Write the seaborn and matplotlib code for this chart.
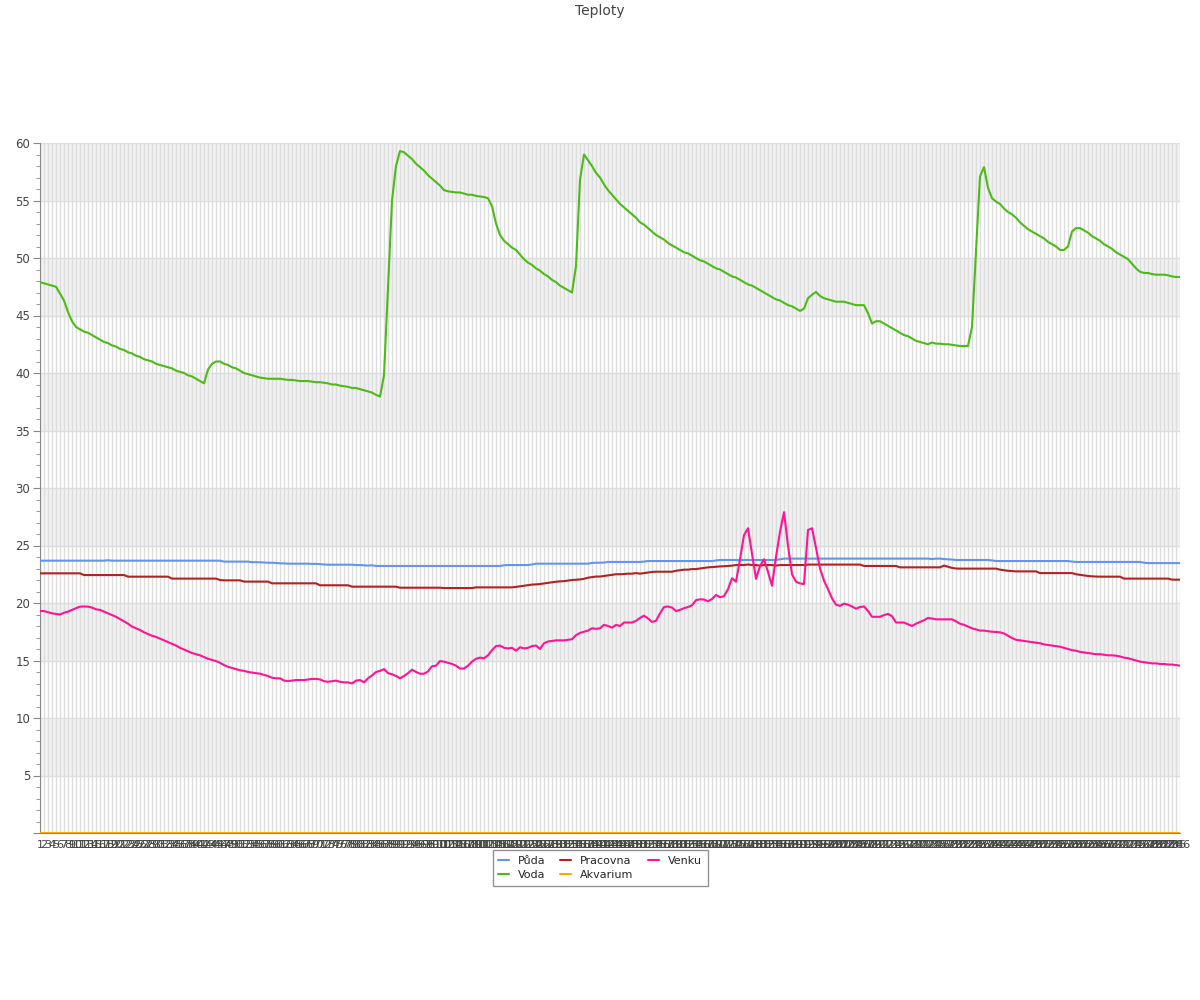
import matplotlib
matplotlib.use('Agg')
import matplotlib.pyplot as plt
import matplotlib.ticker as ticker
from matplotlib.lines import Line2D
import pandas as pd
import seaborn as sns

x_labels = [str(i) for i in range(1, 287)]

puda = [
    23.68, 23.68, 23.68, 23.68, 23.68, 23.68, 23.68, 23.68, 23.68, 23.68,
    23.68, 23.68, 23.68, 23.68, 23.68, 23.68, 23.68, 23.72, 23.68, 23.68,
    23.68, 23.68, 23.68, 23.68, 23.68, 23.68, 23.68, 23.68, 23.68, 23.68,
    23.68, 23.68, 23.68, 23.68, 23.68, 23.68, 23.68, 23.68, 23.68, 23.68,
    23.68, 23.68, 23.68, 23.68, 23.68, 23.68, 23.6, 23.6, 23.6, 23.6,
    23.6, 23.6, 23.6, 23.55, 23.55, 23.54, 23.52, 23.5, 23.5, 23.48,
    23.45, 23.45, 23.42, 23.42, 23.42, 23.42, 23.42, 23.42, 23.4, 23.4,
    23.38, 23.35, 23.33, 23.33, 23.33, 23.33, 23.33, 23.33, 23.33, 23.3,
    23.3, 23.28, 23.25, 23.28, 23.22, 23.22, 23.22, 23.22, 23.22, 23.22,
    23.22, 23.22, 23.22, 23.22, 23.22, 23.22, 23.22, 23.22, 23.22, 23.22,
    23.22, 23.22, 23.22, 23.22, 23.22, 23.22, 23.22, 23.22, 23.22, 23.22,
    23.22, 23.22, 23.22, 23.22, 23.22, 23.22, 23.28, 23.3, 23.3, 23.3,
    23.3, 23.3, 23.3, 23.35, 23.42, 23.42, 23.42, 23.42, 23.42, 23.42,
    23.42, 23.42, 23.42, 23.42, 23.42, 23.42, 23.42, 23.42, 23.48, 23.5,
    23.5, 23.52, 23.57, 23.57, 23.57, 23.57, 23.57, 23.57, 23.57, 23.57,
    23.57, 23.6, 23.65, 23.65, 23.65, 23.65, 23.65, 23.65, 23.65, 23.65,
    23.65, 23.65, 23.65, 23.65, 23.65, 23.65, 23.65, 23.65, 23.65, 23.7,
    23.74, 23.74, 23.74, 23.74, 23.74, 23.74, 23.74, 23.74, 23.74, 23.74,
    23.74, 23.74, 23.74, 23.74, 23.74, 23.8, 23.86, 23.86, 23.86, 23.86,
    23.86, 23.86, 23.86, 23.86, 23.86, 23.86, 23.86, 23.86, 23.86, 23.86,
    23.86, 23.86, 23.86, 23.86, 23.86, 23.86, 23.86, 23.86, 23.86, 23.86,
    23.86, 23.86, 23.86, 23.86, 23.86, 23.86, 23.86, 23.86, 23.86, 23.86,
    23.86, 23.86, 23.86, 23.82, 23.86, 23.86, 23.82, 23.8, 23.78, 23.74,
    23.74, 23.74, 23.74, 23.74, 23.74, 23.74, 23.74, 23.74, 23.7, 23.65,
    23.65, 23.65, 23.65, 23.65, 23.65, 23.65, 23.65, 23.65, 23.65, 23.65,
    23.65, 23.65, 23.65, 23.65, 23.65, 23.65, 23.65, 23.65, 23.6, 23.57,
    23.57, 23.57, 23.57, 23.57, 23.57, 23.57, 23.57, 23.57, 23.57, 23.57,
    23.57, 23.57, 23.57, 23.57, 23.57, 23.57, 23.5, 23.47, 23.47, 23.47,
    23.47, 23.47, 23.47, 23.47, 23.47, 23.47,
]

voda = [
    47.9, 47.8, 47.7, 47.6, 47.5, 46.9, 46.3, 45.3, 44.5, 44.0,
    43.8, 43.6, 43.5, 43.3, 43.1, 42.9, 42.7, 42.6, 42.4, 42.3,
    42.1, 42.0, 41.8, 41.7, 41.5, 41.4, 41.2, 41.1, 41.0, 40.8,
    40.7, 40.6, 40.5, 40.4, 40.2, 40.1, 40.0, 39.8, 39.7, 39.5,
    39.3, 39.1, 40.3, 40.8, 41.0, 41.0, 40.8, 40.7, 40.5, 40.4,
    40.2, 40.0, 39.9, 39.8, 39.7, 39.6, 39.55, 39.5, 39.5, 39.5,
    39.5, 39.45, 39.4, 39.4, 39.35, 39.3, 39.3, 39.3, 39.25, 39.2,
    39.2, 39.15, 39.1, 39.0, 39.0, 38.9, 38.85, 38.8, 38.7, 38.7,
    38.6, 38.5, 38.4, 38.3, 38.1, 37.95, 39.8, 47.5, 55.0, 58.0,
    59.3, 59.2, 58.9, 58.6, 58.2, 57.9, 57.6, 57.2, 56.9, 56.6,
    56.3, 55.9, 55.8, 55.75, 55.7, 55.7, 55.6, 55.5, 55.5, 55.4,
    55.35, 55.3, 55.2, 54.5, 53.0, 52.0, 51.5, 51.2, 50.9, 50.7,
    50.3, 49.9, 49.6, 49.4, 49.1, 48.9, 48.6, 48.4, 48.1, 47.9,
    47.6, 47.4, 47.2, 47.0, 49.3, 56.8, 59.0, 58.5, 58.0, 57.4,
    57.0, 56.4, 55.9, 55.5, 55.1, 54.7, 54.4, 54.1, 53.8, 53.5,
    53.1, 52.9, 52.6, 52.3, 52.0, 51.8, 51.6, 51.3, 51.1, 50.9,
    50.7, 50.5, 50.4, 50.2, 50.0, 49.8, 49.7, 49.5, 49.3, 49.1,
    49.0, 48.8, 48.6, 48.4, 48.3, 48.1, 47.9, 47.7, 47.6, 47.4,
    47.2, 47.0, 46.8, 46.6, 46.4, 46.3, 46.1, 45.9, 45.8, 45.6,
    45.4, 45.6, 46.5, 46.8, 47.05, 46.7, 46.5, 46.4, 46.3, 46.2,
    46.2, 46.2, 46.1, 46.0, 45.9, 45.9, 45.9, 45.2, 44.3, 44.5,
    44.5, 44.3, 44.1, 43.9, 43.7, 43.5, 43.3, 43.2, 43.0, 42.8,
    42.7, 42.6, 42.5, 42.65, 42.55, 42.55, 42.5, 42.5, 42.45, 42.4,
    42.35, 42.35, 42.35, 44.0, 50.5, 57.1, 57.9, 56.1, 55.2, 54.9,
    54.7, 54.3, 54.0, 53.8, 53.5, 53.1, 52.8, 52.5, 52.3, 52.1,
    51.9, 51.7, 51.4, 51.2, 51.0, 50.7, 50.7, 51.0, 52.3, 52.6,
    52.6, 52.4, 52.2, 51.9, 51.7, 51.5, 51.2, 51.0, 50.8, 50.5,
    50.3, 50.1, 49.9, 49.5, 49.1, 48.8, 48.7, 48.7, 48.6, 48.55,
    48.55, 48.55, 48.5, 48.4, 48.35, 48.35,
]

pracovna = [
    22.58, 22.58, 22.58, 22.58, 22.58, 22.58, 22.58, 22.58, 22.58, 22.58,
    22.58, 22.43, 22.43, 22.43, 22.43, 22.43, 22.43, 22.43, 22.43, 22.43,
    22.43, 22.43, 22.29, 22.29, 22.29, 22.29, 22.29, 22.29, 22.29, 22.29,
    22.29, 22.29, 22.29, 22.12, 22.12, 22.12, 22.12, 22.12, 22.12, 22.12,
    22.12, 22.12, 22.12, 22.12, 22.12, 22.0, 21.97, 21.97, 21.97, 21.97,
    21.97, 21.86, 21.86, 21.86, 21.86, 21.86, 21.86, 21.86, 21.71, 21.71,
    21.71, 21.71, 21.71, 21.71, 21.71, 21.71, 21.71, 21.71, 21.71, 21.71,
    21.54, 21.54, 21.54, 21.54, 21.54, 21.54, 21.54, 21.54, 21.42, 21.42,
    21.42, 21.42, 21.42, 21.42, 21.42, 21.42, 21.42, 21.42, 21.42, 21.42,
    21.33, 21.33, 21.33, 21.33, 21.33, 21.33, 21.33, 21.33, 21.33, 21.33,
    21.33, 21.3, 21.3, 21.3, 21.3, 21.3, 21.3, 21.3, 21.3, 21.36,
    21.36, 21.36, 21.36, 21.36, 21.36, 21.36, 21.36, 21.36, 21.36, 21.4,
    21.45, 21.5, 21.55, 21.6, 21.62, 21.65, 21.7, 21.75, 21.8, 21.85,
    21.88, 21.9, 21.95, 22.0, 22.02, 22.05, 22.1, 22.2, 22.25, 22.3,
    22.3, 22.35, 22.4, 22.45, 22.5, 22.5, 22.52, 22.55, 22.55, 22.6,
    22.55, 22.6, 22.65, 22.7, 22.72, 22.72, 22.72, 22.72, 22.72, 22.8,
    22.85, 22.9, 22.9, 22.95, 22.95, 23.0, 23.05, 23.1, 23.12, 23.15,
    23.18, 23.2, 23.22, 23.25, 23.3, 23.3, 23.3, 23.35, 23.3, 23.3,
    23.25, 23.3, 23.3, 23.3, 23.25, 23.3, 23.3, 23.3, 23.3, 23.3,
    23.3, 23.3, 23.34, 23.34, 23.34, 23.34, 23.34, 23.34, 23.34, 23.34,
    23.34, 23.34, 23.34, 23.34, 23.34, 23.34, 23.22, 23.22, 23.22, 23.22,
    23.22, 23.22, 23.22, 23.22, 23.22, 23.1, 23.1, 23.1, 23.1, 23.1,
    23.1, 23.1, 23.1, 23.1, 23.1, 23.1, 23.25, 23.15, 23.05, 23.0,
    22.99, 22.99, 22.99, 22.99, 22.99, 22.99, 22.99, 22.99, 22.99, 22.99,
    22.9, 22.85, 22.8, 22.78, 22.75, 22.75, 22.75, 22.75, 22.75, 22.75,
    22.6, 22.6, 22.6, 22.6, 22.6, 22.6, 22.6, 22.6, 22.6, 22.5,
    22.45, 22.4, 22.35, 22.32, 22.3, 22.29, 22.29, 22.29, 22.29, 22.29,
    22.29, 22.12, 22.12, 22.12, 22.12, 22.12, 22.12, 22.12, 22.12, 22.12,
    22.12, 22.12, 22.12, 22.03, 22.03, 22.03,
]

# aquarium sensor reads 0 the whole time
akvarium = [
    0, 0, 0, 0, 0, 0, 0, 0, 0, 0, 0, 0, 0, 0, 0, 0, 0, 0, 0, 0, 0, 0, 0, 0, 0, 0,
    0, 0, 0, 0, 0, 0, 0, 0, 0, 0, 0, 0, 0, 0, 0, 0, 0, 0, 0, 0, 0, 0, 0, 0, 0, 0,
    0, 0, 0, 0, 0, 0, 0, 0, 0, 0, 0, 0, 0, 0, 0, 0, 0, 0, 0, 0, 0, 0, 0, 0, 0, 0,
    0, 0, 0, 0, 0, 0, 0, 0, 0, 0, 0, 0, 0, 0, 0, 0, 0, 0, 0, 0, 0, 0, 0, 0, 0, 0,
    0, 0, 0, 0, 0, 0, 0, 0, 0, 0, 0, 0, 0, 0, 0, 0, 0, 0, 0, 0, 0, 0, 0, 0, 0, 0,
    0, 0, 0, 0, 0, 0, 0, 0, 0, 0, 0, 0, 0, 0, 0, 0, 0, 0, 0, 0, 0, 0, 0, 0, 0, 0,
    0, 0, 0, 0, 0, 0, 0, 0, 0, 0, 0, 0, 0, 0, 0, 0, 0, 0, 0, 0, 0, 0, 0, 0, 0, 0,
    0, 0, 0, 0, 0, 0, 0, 0, 0, 0, 0, 0, 0, 0, 0, 0, 0, 0, 0, 0, 0, 0, 0, 0, 0, 0,
    0, 0, 0, 0, 0, 0, 0, 0, 0, 0, 0, 0, 0, 0, 0, 0, 0, 0, 0, 0, 0, 0, 0, 0, 0, 0,
    0, 0, 0, 0, 0, 0, 0, 0, 0, 0, 0, 0, 0, 0, 0, 0, 0, 0, 0, 0, 0, 0, 0, 0, 0, 0,
    0, 0, 0, 0, 0, 0, 0, 0, 0, 0, 0, 0, 0, 0, 0, 0, 0, 0, 0, 0, 0, 0, 0, 0, 0, 0,
]

venku = [
    19.3, 19.3, 19.2, 19.1, 19.05, 19.0, 19.15, 19.25, 19.4, 19.55,
    19.68, 19.7, 19.68, 19.6, 19.45, 19.4, 19.25, 19.1, 18.95, 18.8,
    18.6, 18.4, 18.2, 17.95, 17.8, 17.65, 17.45, 17.3, 17.15, 17.05,
    16.9, 16.75, 16.6, 16.45, 16.3, 16.1, 15.95, 15.8, 15.65, 15.55,
    15.45, 15.3, 15.15, 15.05, 14.95, 14.8, 14.6, 14.45, 14.35, 14.25,
    14.15, 14.1, 14.0, 13.95, 13.9, 13.85, 13.75, 13.65, 13.5, 13.45,
    13.45, 13.25, 13.22, 13.25, 13.3, 13.3, 13.3, 13.35, 13.4, 13.4,
    13.35, 13.2, 13.15, 13.2, 13.25, 13.15, 13.1, 13.1, 13.0, 13.25,
    13.3, 13.1, 13.45, 13.7, 14.0, 14.1, 14.25, 13.9, 13.8, 13.65,
    13.45, 13.65, 13.9, 14.2, 14.0, 13.85, 13.85, 14.05, 14.5, 14.55,
    14.95, 14.9, 14.8, 14.7, 14.55, 14.3, 14.3, 14.55, 14.9, 15.15,
    15.25, 15.2, 15.45, 15.9, 16.25, 16.3, 16.1, 16.05, 16.1, 15.85,
    16.15, 16.05, 16.1, 16.25, 16.3, 16.0, 16.5, 16.65, 16.7, 16.75,
    16.75, 16.75, 16.8, 16.85, 17.2, 17.4, 17.5, 17.6, 17.8, 17.75,
    17.8, 18.1, 18.0, 17.85, 18.1, 18.0, 18.3, 18.3, 18.3, 18.45,
    18.7, 18.9, 18.65, 18.35, 18.45, 19.1, 19.65, 19.7, 19.6, 19.3,
    19.4, 19.55, 19.65, 19.8, 20.25, 20.32, 20.3, 20.15, 20.35, 20.7,
    20.5, 20.6, 21.2, 22.15, 21.85, 23.8, 25.9, 26.5, 24.3, 22.1,
    23.2, 23.8, 22.7, 21.5, 24.0, 26.2, 27.9, 25.0, 22.5, 21.85,
    21.7, 21.65, 26.35, 26.5, 24.8, 23.0, 21.95, 21.2, 20.4, 19.85,
    19.75, 19.95, 19.85, 19.7, 19.5, 19.65, 19.7, 19.3, 18.8, 18.8,
    18.8, 18.95, 19.05, 18.85, 18.3, 18.3, 18.3, 18.15, 18.0, 18.2,
    18.35, 18.5, 18.7, 18.65, 18.58, 18.58, 18.58, 18.58, 18.58, 18.4,
    18.2, 18.1, 17.95, 17.8, 17.7, 17.6, 17.6, 17.55, 17.5, 17.48,
    17.45, 17.35, 17.15, 16.95, 16.8, 16.75, 16.7, 16.65, 16.6, 16.55,
    16.5, 16.4, 16.35, 16.3, 16.25, 16.2, 16.1, 16.0, 15.9, 15.85,
    15.75, 15.7, 15.65, 15.6, 15.55, 15.55, 15.5, 15.45, 15.45, 15.42,
    15.35, 15.25, 15.2, 15.1, 15.0, 14.9, 14.85, 14.8, 14.75, 14.75,
    14.7, 14.7, 14.65, 14.65, 14.6, 14.55,
]

names = ['Půda', 'Voda', 'Pracovna', 'Akvarium', 'Venku']
colors = ['#6495ed', '#4cbb17', '#b22222', '#ffa500', '#ff1493']
series = [puda, voda, pracovna, akvarium, venku]

# long-form table for seaborn
pos = list(range(len(x_labels)))
frames = []
for name, vals in zip(names, series):
    frames.append(pd.DataFrame({'pos': pos, 'teplota': vals, 'cidlo': name}))
df = pd.concat(frames, ignore_index=True)

# figure + axes
sns.set_style('white')
plt.rcParams['font.family'] = ['DejaVu Sans']
fig, ax = plt.subplots(figsize=(12, 10), dpi=100)
fig.subplots_adjust(left=40/1200, right=1180/1200, top=1-143/1000, bottom=1-833/1000)

# alternating grey bands behind the plot
for lo in range(5, 60, 10):
    ax.axhspan(lo, lo + 5, color='#f2f2f2', zorder=0, lw=0)

sns.lineplot(data=df, x='pos', y='teplota', hue='cidlo', hue_order=names,
             palette=colors, linewidth=1.5, ax=ax, legend=False, zorder=3)

# axes range and ticks
ax.set_xlim(0, len(x_labels) - 1)
ax.set_ylim(0, 60)
ax.set_xticks(pos)
ax.set_xticklabels(x_labels, fontsize=8, color='#444444')
ax.tick_params(axis='x', length=0, pad=5)
ax.yaxis.set_major_locator(ticker.MultipleLocator(5))
ax.yaxis.set_minor_locator(ticker.MultipleLocator(1))
ax.yaxis.set_major_formatter(ticker.FuncFormatter(lambda v, p: '' if v == 0 else '%d' % v))
ax.tick_params(axis='y', which='major', length=5, color='#888888', labelsize=8.5,
               labelcolor='#444444', pad=2, left=True)
ax.tick_params(axis='y', which='minor', length=3, color='#888888', left=True)

# grid
ax.set_axisbelow(True)
ax.grid(axis='x', color='#dddddd', linewidth=1)
ax.grid(axis='y', which='major', color='#dddddd', linewidth=1)
ax.set_xlabel('')
ax.set_ylabel('')

for s in ['top', 'right']:
    ax.spines[s].set_visible(False)
ax.spines['left'].set_color('#888888')
ax.spines['bottom'].set_color('#888888')

# legend under the plot, centred on the figure
handles = [Line2D([], [], color=c, lw=1.5) for c in colors]
leg = fig.legend(handles, names, loc='upper center', bbox_to_anchor=(0.5, 1 - 850/1000),
                 ncol=3, fontsize=8, frameon=True, fancybox=False, edgecolor='#777777',
                 handlelength=1.0, columnspacing=1.3, borderpad=0.5, labelspacing=0.4,
                 borderaxespad=0)
leg.get_frame().set_linewidth(1)

fig.text(0.5, 1 - 11/1000, 'Teploty', ha='center', va='center', fontsize=10, color='#444444')

fig.savefig('out.png', dpi=100)
